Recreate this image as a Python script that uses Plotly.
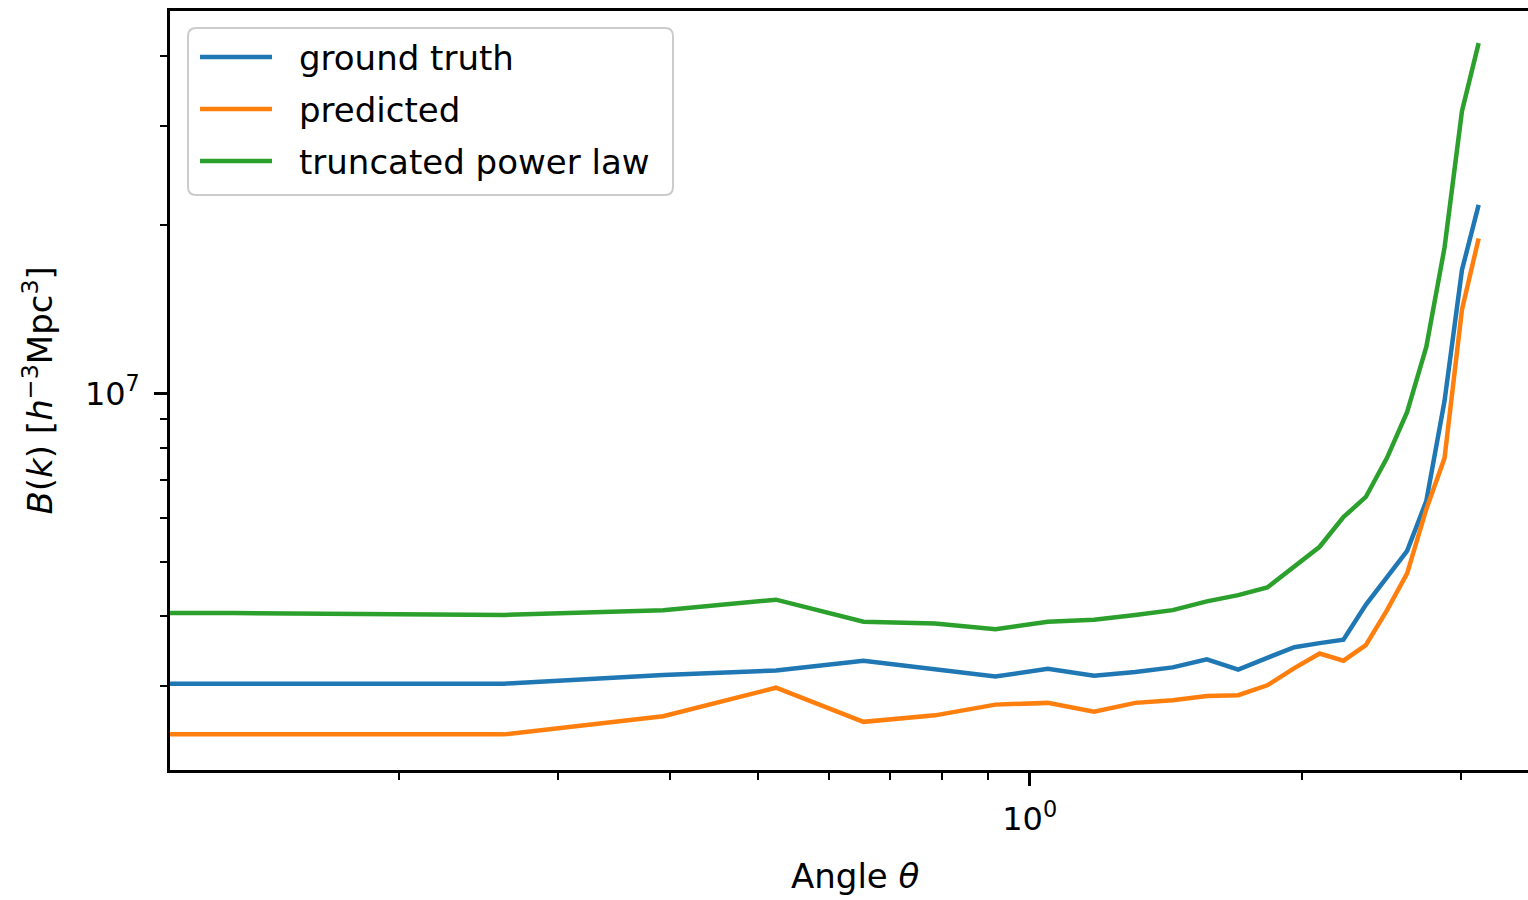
import plotly.graph_objects as go

# Angular bins (radians), theta = k*pi/24, k = 0..24
theta = [0.0, 0.1309, 0.2618, 0.3927, 0.5236, 0.6545, 0.7854, 0.9163, 1.0472,
         1.1781, 1.3090, 1.4399, 1.5708, 1.7017, 1.8326, 1.9635, 2.0944,
         2.2253, 2.3562, 2.4871, 2.6180, 2.7489, 2.8798, 3.0107, 3.1416]

# Bispectrum B(k) [h^-3 Mpc^3]
ground_truth = [3.03e6, 3.03e6, 3.03e6, 3.14e6, 3.20e6, 3.33e6, 3.22e6, 3.12e6,
                3.22e6, 3.13e6, 3.18e6, 3.24e6, 3.35e6, 3.21e6, 3.37e6, 3.52e6,
                3.58e6, 3.63e6, 4.19e6, 4.68e6, 5.23e6, 6.42e6, 9.69e6, 1.66e7,
                2.17e7]
predicted = [2.47e6, 2.47e6, 2.46e6, 2.65e6, 2.98e6, 2.59e6, 2.66e6, 2.78e6,
             2.80e6, 2.70e6, 2.80e6, 2.83e6, 2.88e6, 2.89e6, 3.01e6, 3.23e6,
             3.43e6, 3.33e6, 3.55e6, 4.10e6, 4.77e6, 6.21e6, 7.66e6, 1.41e7,
             1.89e7]
power_law = [4.05e6, 4.05e6, 4.02e6, 4.10e6, 4.28e6, 3.91e6, 3.88e6, 3.79e6,
             3.91e6, 3.94e6, 4.02e6, 4.10e6, 4.25e6, 4.36e6, 4.50e6, 4.92e6,
             5.32e6, 6.01e6, 6.53e6, 7.67e6, 9.26e6, 1.21e7, 1.82e7, 3.19e7,
             4.22e7]

series_names = ["ground truth", "predicted", "truncated power law"]
series_values = [ground_truth, predicted, power_law]
series_colors = ["#1f77b4", "#ff7f0e", "#2ca02c"]

x_major = [1.0]
x_major_text = ["10<sup>0</sup>"]
x_minor = [0.2, 0.3, 0.4, 0.5, 0.6, 0.7, 0.8, 0.9, 2.0, 3.0]
y_major = [1e7]
y_major_text = ["10<sup>7</sup>"]
y_minor = [3e6, 4e6, 5e6, 6e6, 7e6, 8e6, 9e6, 2e7, 3e7, 4e7]

# Figure geometry (pixels)
W, H = 1528, 900
ML, MR, MT, MB = 170, 0, 11, 130
PW, PH = W - ML - MR, H - MT - MB
FONT = "DejaVu Sans"
FS = 34


def px(x):
    return (x - ML) / PW


def py(y):
    return (H - MB - y) / PH


# On a log axis, non-positive angles are clipped to a tiny positive value
theta_plot = [t if t > 0 else 1e-300 for t in theta]

fig = go.Figure()
for name, vals, col in zip(series_names, series_values, series_colors):
    fig.add_trace(go.Scatter(x=theta_plot, y=vals, mode="lines", name=name,
                             line=dict(color=col, width=4.5),
                             showlegend=False, cliponaxis=True))

axis_common = dict(
    type="log", showgrid=False, zeroline=False,
    showline=True, linecolor="black", linewidth=2.5,
    ticks="outside", ticklen=13, tickwidth=2.5, tickcolor="black",
    tickfont=dict(family=FONT, size=FS - 2, color="black"),
)

fig.update_xaxes(
    **axis_common, mirror=True,
    range=[-0.9521, 0.5518],
    tickmode="array", tickvals=x_major, ticktext=x_major_text,
    ticklabelstandoff=6,
    minor=dict(tickmode="array", tickvals=x_minor, ticks="outside",
               ticklen=7, tickwidth=2, tickcolor="black", showgrid=False),
)
fig.update_yaxes(
    **axis_common, mirror=False,
    range=[6.3273, 7.6827],
    tickmode="array", tickvals=y_major, ticktext=y_major_text,
    ticklabelstandoff=8,
    minor=dict(tickmode="array", tickvals=y_minor, ticks="outside",
               ticklen=7, tickwidth=2, tickcolor="black", showgrid=False),
)

annotations = [
    dict(text="Angle <i>θ</i>", x=px(855.5), y=py(876), xref="paper", yref="paper",
         xanchor="center", yanchor="middle", showarrow=False,
         font=dict(family=FONT, size=FS, color="black")),
    dict(text="<i>B</i>(<i>k</i>) [<i>h</i><sup>−3</sup>Mpc<sup>3</sup>]",
         x=px(37), y=py(390.5), xref="paper", yref="paper", textangle=-90,
         xanchor="center", yanchor="middle", showarrow=False,
         font=dict(family=FONT, size=FS, color="black")),
]

# Legend frame with rounded corners
x0, y0, x1, y1, r = 188, 28, 673, 195, 8
path = (f"M {px(x0 + r)},{py(y0)} L {px(x1 - r)},{py(y0)} "
        f"Q {px(x1)},{py(y0)} {px(x1)},{py(y0 + r)} "
        f"L {px(x1)},{py(y1 - r)} Q {px(x1)},{py(y1)} {px(x1 - r)},{py(y1)} "
        f"L {px(x0 + r)},{py(y1)} Q {px(x0)},{py(y1)} {px(x0)},{py(y1 - r)} "
        f"L {px(x0)},{py(y0 + r)} Q {px(x0)},{py(y0)} {px(x0 + r)},{py(y0)} Z")
shapes = [dict(type="path", path=path, xref="paper", yref="paper",
               fillcolor="rgba(255,255,255,0.8)",
               line=dict(color="#cccccc", width=2), layer="above")]

row_y = [57, 109, 161]
for name, col, ry in zip(series_names, series_colors, row_y):
    shapes.append(dict(type="line", xref="paper", yref="paper",
                       x0=px(200), x1=px(272), y0=py(ry), y1=py(ry),
                       line=dict(color=col, width=4.5), layer="above"))
    annotations.append(dict(text=name, x=px(297), y=py(ry + 1), xref="paper",
                            yref="paper", xanchor="left", yanchor="middle",
                            showarrow=False,
                            font=dict(family=FONT, size=FS, color="black")))

fig.update_layout(
    width=W, height=H,
    margin=dict(l=ML, r=MR, t=MT, b=MB, pad=0),
    paper_bgcolor="white", plot_bgcolor="white",
    showlegend=False,
    shapes=shapes, annotations=annotations,
)

fig.write_html("out.html")
